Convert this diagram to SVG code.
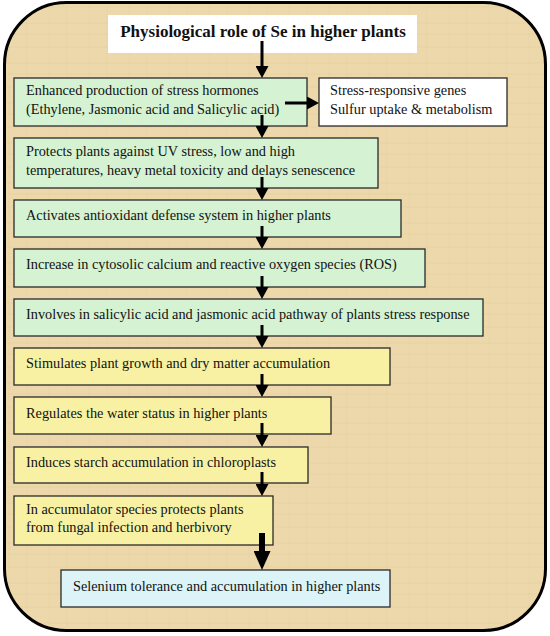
<svg xmlns="http://www.w3.org/2000/svg" width="550" height="636" viewBox="0 0 550 636">
<defs>
<style>
.t{font-family:"Liberation Serif","Times New Roman",serif;font-size:14.3px;fill:#111}
.title{font-family:"Liberation Serif","Times New Roman",serif;font-size:17px;font-weight:bold;fill:#111}
.g{fill:#d5f2d2;stroke:#2a2a2a;stroke-width:1.3}
.y{fill:#f8f1a4;stroke:#2a2a2a;stroke-width:1.3}
.b{fill:#dcf3f7;stroke:#2a2a2a;stroke-width:1.3}
.w{fill:#ffffff;stroke:#2a2a2a;stroke-width:1.3}
.c{stroke:#000;stroke-width:3;fill:none}
.ct{stroke:#000;stroke-width:6;fill:none}
</style>
<marker id="ah" markerUnits="userSpaceOnUse" markerWidth="12" markerHeight="13" viewBox="0 0 12 13" refX="0" refY="6.5" orient="auto">
<path d="M0,0 L12,6.5 L0,13 Z" fill="#000"/>
</marker>
<marker id="ahb" markerUnits="userSpaceOnUse" markerWidth="19" markerHeight="17" viewBox="0 0 19 17" refX="0" refY="8.5" orient="auto">
<path d="M0,0 L19,8.5 L0,17 Z" fill="#000"/>
</marker>
<pattern id="tex" width="40" height="40" patternUnits="userSpaceOnUse">
<rect width="40" height="40" fill="#ecd8ab"/>
<path d="M0,7 H40 M0,23 H40 M0,34 H40" stroke="#dcc28e" stroke-width="0.8" opacity="0.35"/>
<path d="M9,0 V40 M27,0 V40" stroke="#dcc28e" stroke-width="0.8" opacity="0.3"/>
</pattern>
</defs>
<rect x="0" y="0" width="550" height="636" fill="#ffffff"/>
<g id="frame">
<rect x="4.5" y="2.5" width="541" height="628" rx="62" ry="62" fill="url(#tex)" stroke="#000" stroke-width="3"/>
</g>
<g id="title">
<rect x="108" y="15" width="309" height="38" fill="#ffffff"/>
<text class="title" x="263" y="37" text-anchor="middle">Physiological role of Se in higher plants</text>
</g>
<g id="n1">
<rect class="g" x="14" y="78" width="293" height="48"/>
<text class="t" x="26" y="95">Enhanced production of stress hormones</text>
<text class="t" x="26" y="114">(Ethylene, Jasmonic acid and Salicylic acid)</text>
</g>
<g id="side">
<rect class="w" x="319" y="78" width="188" height="48"/>
<text class="t" x="330" y="95">Stress-responsive genes</text>
<text class="t" x="330" y="114">Sulfur uptake &amp; metabolism</text>
</g>
<g id="n2">
<rect class="g" x="14" y="138" width="364" height="50"/>
<text class="t" x="26" y="156">Protects plants against UV stress, low and high</text>
<text class="t" x="26" y="175">temperatures, heavy metal toxicity and delays senescence</text>
</g>
<g id="n3">
<rect class="g" x="14" y="200" width="387" height="37"/>
<text class="t" x="26" y="220">Activates antioxidant defense system in higher plants</text>
</g>
<g id="n4">
<rect class="g" x="14" y="249" width="411" height="38"/>
<text class="t" x="26" y="269">Increase in cytosolic calcium and reactive oxygen species (ROS)</text>
</g>
<g id="n5">
<rect class="g" x="14" y="299" width="469" height="37"/>
<text class="t" x="26" y="319">Involves in salicylic acid and jasmonic acid pathway of plants stress response</text>
</g>
<g id="n6">
<rect class="y" x="14" y="348" width="376" height="37"/>
<text class="t" x="26" y="368">Stimulates plant growth and dry matter accumulation</text>
</g>
<g id="n7">
<rect class="y" x="14" y="397" width="317" height="37"/>
<text class="t" x="26" y="418">Regulates the water status in higher plants</text>
</g>
<g id="n8">
<rect class="y" x="14" y="447" width="294" height="36"/>
<text class="t" x="26" y="467">Induces starch accumulation in chloroplasts</text>
</g>
<g id="n9">
<rect class="y" x="14" y="496" width="259" height="49"/>
<text class="t" x="26" y="514">In accumulator species protects plants</text>
<text class="t" x="26" y="532">from fungal infection and herbivory</text>
</g>
<g id="n10">
<rect class="b" x="61" y="570" width="329" height="37"/>
<text class="t" x="73" y="591">Selenium tolerance and accumulation in higher plants</text>
</g>
<g id="connectors">
<line class="c" x1="262" y1="41" x2="262" y2="66" marker-end="url(#ah)"/>
<line class="c" x1="285" y1="103" x2="307" y2="103" marker-end="url(#ah)"/>
<line class="c" x1="262" y1="115" x2="262" y2="126" marker-end="url(#ah)"/>
<line class="c" x1="262" y1="177" x2="262" y2="188" marker-end="url(#ah)"/>
<line class="c" x1="262" y1="226" x2="262" y2="237" marker-end="url(#ah)"/>
<line class="c" x1="262" y1="276" x2="262" y2="287" marker-end="url(#ah)"/>
<line class="c" x1="262" y1="325" x2="262" y2="336" marker-end="url(#ah)"/>
<line class="c" x1="262" y1="374" x2="262" y2="385" marker-end="url(#ah)"/>
<line class="c" x1="262" y1="423" x2="262" y2="435" marker-end="url(#ah)"/>
<line class="c" x1="262" y1="472" x2="262" y2="484" marker-end="url(#ah)"/>
<line class="ct" x1="262" y1="533" x2="262" y2="551" marker-end="url(#ahb)"/>
</g>
</svg>
